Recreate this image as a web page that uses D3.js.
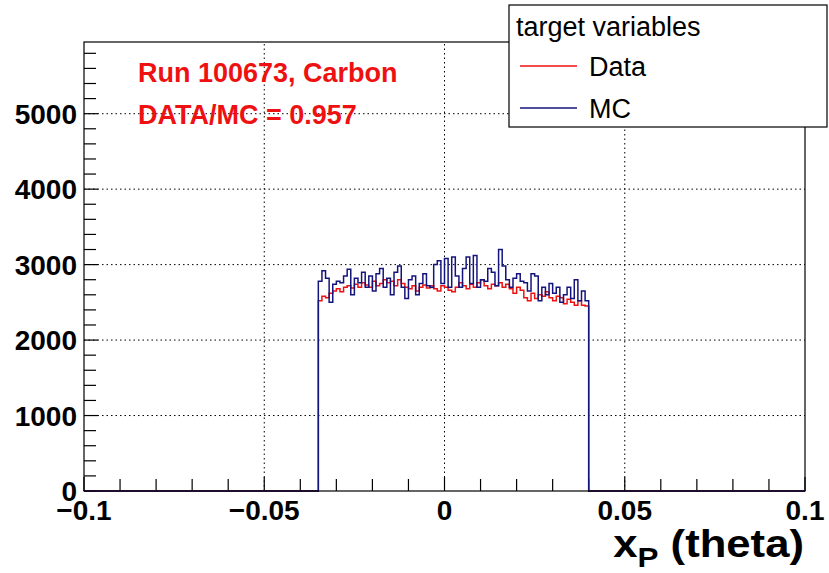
<!DOCTYPE html>
<html>
<head>
<meta charset="utf-8">
<script src="https://cdn.jsdelivr.net/npm/d3@7"></script>
<style>
  body { margin: 0; background: #fff; }
  text { font-family: "Liberation Sans", Arial, sans-serif; }
</style>
</head>
<body>
<svg id="chart" width="829" height="573"></svg>
<script>
// histogram: 200 bins over [-0.1, 0.1], filled bins start at -0.035
const nBins = 200;
const xRange = [-0.1, 0.1];
const firstFilled = -0.035;

const dataCounts = [
  2520, 2580, 2560, 2620, 2650, 2680, 2640, 2700, 2720, 2690,
  2740, 2700, 2760, 2730, 2700, 2780, 2720, 2750, 2800, 2760,
  2780, 2720, 2800, 2750, 2700, 2680, 2720, 2650, 2700, 2730,
  2690, 2720, 2680, 2650, 2720, 2700, 2660, 2640, 2700, 2760,
  2720, 2680, 2740, 2700, 2760, 2800, 2720, 2680, 2740, 2720,
  2760, 2700, 2740, 2680, 2620, 2700, 2660, 2560, 2520, 2620,
  2550, 2600, 2580, 2640, 2560, 2520, 2580, 2560, 2480, 2540,
  2500, 2460, 2520, 2460, 2450
];

const mcCounts = [
  2780, 2920, 2820, 2500, 2740, 2780, 2760, 2850, 2940, 2600,
  2820, 2760, 2900, 2700, 2850, 2650, 2880, 2950, 2700, 2820,
  2600, 2900, 2980, 2700, 2550, 2800, 2850, 2600, 2750, 2880,
  2720, 2700, 3000, 3050, 2750, 3080, 2700, 3100, 2850, 2700,
  2950, 3100, 2750, 3120, 2700, 2800, 2780, 2950, 2900, 2720,
  3200, 2980, 2800, 2700, 2820, 2880, 2780, 2760, 2650, 2880,
  2850, 2520, 2700, 2600, 2750, 2620, 2700, 2500, 2600, 2700,
  2550, 2800, 2520, 2650, 2520
];

const xMajor = [-0.1, -0.05, 0, 0.05, 0.1];
const xMajorLabels = ["\u22120.1", "\u22120.05", "0", "0.05", "0.1"];
const yMajor = [0, 1000, 2000, 3000, 4000, 5000];
const yMax = 5950;

const svg = d3.select("#chart");
const fLeft = 84, fRight = 805, fTop = 42, fBottom = 491;

const x = d3.scaleLinear().domain(xRange).range([fLeft, fRight]);
const y = d3.scaleLinear().domain([0, yMax]).range([fBottom, fTop]);

const binW = (xRange[1] - xRange[0]) / nBins;

function fullHist(counts) {
  const start = Math.round((firstFilled - xRange[0]) / binW);
  const arr = new Array(nBins).fill(0);
  counts.forEach((c, i) => { arr[start + i] = c; });
  return arr;
}

function stepPoints(arr) {
  const pts = [[xRange[0], 0]];
  arr.forEach((c, i) => {
    const lo = xRange[0] + i * binW;
    pts.push([lo, c], [lo + binW, c]);
  });
  pts.push([xRange[1], 0]);
  return pts;
}

// grid
const grid = svg.append("g")
  .attr("stroke", "#000")
  .attr("stroke-width", 1)
  .attr("stroke-dasharray", "1.5,3");
grid.selectAll(".gx")
  .data(xMajor.slice(1, -1))
  .enter().append("line")
  .attr("x1", d => x(d)).attr("x2", d => x(d))
  .attr("y1", fBottom).attr("y2", fTop);
grid.selectAll(".gy")
  .data(yMajor.slice(1))
  .enter().append("line")
  .attr("x1", fLeft).attr("x2", fRight)
  .attr("y1", d => y(d)).attr("y2", d => y(d));

// ticks (inside the frame)
const ticks = svg.append("g").attr("stroke", "#000").attr("stroke-width", 1.2);
const xMinor = d3.range(-10, 11).map(i => i / 100);
ticks.selectAll(".tx")
  .data(xMinor)
  .enter().append("line")
  .attr("x1", d => x(d)).attr("x2", d => x(d))
  .attr("y1", fBottom).attr("y2", d => fBottom - (Math.abs(Math.round(d * 100)) % 5 === 0 ? 14 : 12));
const yMinor = d3.range(0, 5801, 200);
ticks.selectAll(".ty")
  .data(yMinor)
  .enter().append("line")
  .attr("y1", d => y(d)).attr("y2", d => y(d))
  .attr("x1", fLeft).attr("x2", d => fLeft + (d % 1000 === 0 ? 14 : 12));

// histograms
const line = d3.line().x(d => x(d[0])).y(d => y(d[1]));
svg.append("path")
  .attr("d", line(stepPoints(fullHist(dataCounts))))
  .attr("fill", "none")
  .attr("stroke", "#ee1111")
  .attr("stroke-width", 1.5);
svg.append("path")
  .attr("d", line(stepPoints(fullHist(mcCounts))))
  .attr("fill", "none")
  .attr("stroke", "#14147d")
  .attr("stroke-width", 1.5);

// frame
svg.append("rect")
  .attr("x", fLeft).attr("y", fTop)
  .attr("width", fRight - fLeft).attr("height", fBottom - fTop)
  .attr("fill", "none").attr("stroke", "#000").attr("stroke-width", 1.2);

// axis labels
svg.append("g").selectAll("text")
  .data(yMajor)
  .enter().append("text")
  .attr("x", 77).attr("y", d => y(d))
  .attr("dy", "0.36em")
  .attr("text-anchor", "end")
  .attr("font-size", 28).attr("font-weight", "bold")
  .text(d => d);

svg.append("g").selectAll("text")
  .data(xMajor)
  .enter().append("text")
  .attr("x", d => x(d)).attr("y", 520)
  .attr("text-anchor", "middle")
  .attr("font-size", 28).attr("font-weight", "bold")
  .text((d, i) => xMajorLabels[i]);

// axis title, a little wider than the plain font
const xt = svg.append("text")
  .attr("transform", "translate(804,557) scale(1.12,1)")
  .attr("text-anchor", "end")
  .attr("font-size", 39).attr("font-weight", "bold");
xt.append("tspan").text("x");
xt.append("tspan").attr("font-size", 28).attr("dy", 10).text("P");
xt.append("tspan").attr("dy", -10).text(" (theta)");

// annotations
svg.append("text")
  .attr("x", 138).attr("y", 82)
  .attr("fill", "#ee1111").attr("font-size", 27).attr("font-weight", "bold")
  .text("Run 100673, Carbon");
svg.append("text")
  .attr("x", 138).attr("y", 124)
  .attr("fill", "#ee1111").attr("font-size", 27).attr("font-weight", "bold")
  .text("DATA/MC = 0.957");

// legend
const leg = svg.append("g");
leg.append("rect")
  .attr("x", 509).attr("y", 5).attr("width", 318).attr("height", 122)
  .attr("fill", "#fff").attr("stroke", "#000").attr("stroke-width", 1.2);
leg.append("text")
  .attr("x", 516).attr("y", 36).attr("font-size", 27)
  .text("target variables");
const legItems = [["Data", "#ee1111"], ["MC", "#14147d"]];
legItems.forEach((it, i) => {
  const yy = 66 + i * 42;
  leg.append("line")
    .attr("x1", 520).attr("x2", 577).attr("y1", yy).attr("y2", yy)
    .attr("stroke", it[1]).attr("stroke-width", 1.5);
  leg.append("text")
    .attr("x", 589).attr("y", yy + 10).attr("font-size", 27)
    .text(it[0]);
});
</script>
</body>
</html>
